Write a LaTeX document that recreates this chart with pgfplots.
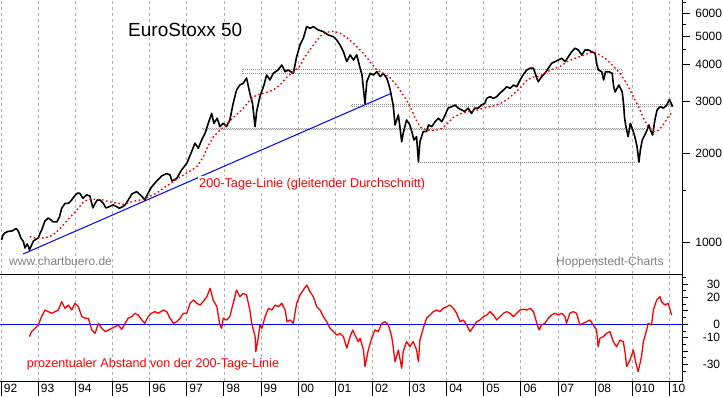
\documentclass[border=0pt]{standalone}
\usepackage{pgfplots}
\pgfplotsset{compat=1.18}
\usepackage{fontspec}
\setmainfont{Liberation Sans}
\definecolor{gridgray}{RGB}{175,175,175}
\definecolor{boxgray}{RGB}{150,150,150}
\definecolor{boxdark}{RGB}{110,110,110}
\definecolor{txtgray}{RGB}{128,128,128}
\definecolor{pred}{RGB}{255,0,0}
\definecolor{pblue}{RGB}{0,0,255}
\begin{document}
\begin{tikzpicture}[x=1pt,y=1pt]
\pgfplotsset{
  common/.style={
    scale only axis, width=682.3pt,
    xmin=1991.968, xmax=2010.349,
    xtick={1992,...,2010},
    xmajorgrids,
    major grid style={gridgray, dash pattern=on 3pt off 3pt, line width=0.7pt},
    axis line style={draw=none},
    ytick pos=right, yticklabel pos=right,
    tick align=outside,
    tick style={black, line width=0.8pt},
    ticklabel style={font=\fontsize{12}{14}\selectfont},
    yticklabel style={anchor=east, inner sep=0pt},
  }
}
% ---------------- top panel ----------------
\begin{axis}[common, at={(0pt,123pt)}, anchor=south west, height=274pt,
  ymode=log, ymin=778.5, ymax=6643,
  ytick={1000,2000,3000,4000,5000,6000},
  yticklabels={1000,2000,3000,4000,5000,6000},
  minor ytick={1500,4500,5500,6500},
  xticklabels={}, xtick style={draw=none},
  major tick length=8pt, minor tick length=4pt,
  yticklabel style={xshift=32pt},
]
% support / resistance boxes
\addplot[boxgray, line width=1pt, dash pattern=on 1pt off 1pt] coordinates {(1998.51,3865) (2008.73,3865) (2008.73,3745) (1998.51,3745) (1998.51,3865)};
\addplot[boxgray, line width=1pt, dash pattern=on 1pt off 1pt] coordinates {(2001.44,2921) (2010.11,2921) (2010.11,2883) (2001.44,2883) (2001.44,2921)};
\addplot[boxgray, line width=1pt, dash pattern=on 1pt off 1pt] coordinates {(1997.42,2433) (2009.34,2433) (2009.34,2414) (1997.42,2414) (1997.42,2433)};
\addplot[boxdark, line width=0.9pt, dash pattern=on 1pt off 1pt] coordinates {(2003.24,1866) (2009.10,1866)};
% trend line
\addplot[pblue, line width=1pt] coordinates {(1992.59,910) (2002.53,3209)};
% price
\addplot[black, line width=1.6pt, line join=round] coordinates {
(1992.01,1016) (1992.05,1056) (1992.10,1073) (1992.18,1086) (1992.29,1090) (1992.40,1111) (1992.46,1090) (1992.53,1032) (1992.60,1002) (1992.64,954) (1992.70,985) (1992.74,962) (1992.76,939) (1992.82,977) (1992.87,1008) (1992.91,1016) (1993.00,1032) (1993.05,1073) (1993.09,1098) (1993.13,1133) (1993.18,1179) (1993.27,1207) (1993.34,1188) (1993.40,1170) (1993.50,1170) (1993.57,1216) (1993.63,1302) (1993.72,1353) (1993.81,1353) (1993.90,1389) (1993.96,1425) (1994.05,1464) (1994.12,1464) (1994.20,1408) (1994.30,1445) (1994.39,1434) (1994.47,1305) (1994.53,1353) (1994.59,1389) (1994.66,1389) (1994.75,1353) (1994.82,1305) (1994.91,1318) (1995.01,1336) (1995.11,1318) (1995.18,1302) (1995.27,1318) (1995.34,1336) (1995.44,1400) (1995.52,1456) (1995.65,1483) (1995.78,1434) (1995.87,1389) (1995.96,1467) (1996.05,1537) (1996.19,1611) (1996.32,1675) (1996.46,1709) (1996.55,1689) (1996.60,1611) (1996.73,1645) (1996.86,1757) (1997.00,1851) (1997.13,2027) (1997.22,2166) (1997.31,2082) (1997.40,2221) (1997.49,2339) (1997.58,2531) (1997.67,2736) (1997.73,2531) (1997.82,2633) (1997.89,2466) (1997.98,2531) (1998.07,2466) (1998.16,2598) (1998.25,2960) (1998.34,3285) (1998.43,3416) (1998.52,3462) (1998.61,3608) (1998.70,3197) (1998.77,2958) (1998.84,2466) (1998.88,2769) (1998.97,3118) (1999.08,3416) (1999.15,3694) (1999.24,3552) (1999.33,3743) (1999.46,3842) (1999.56,3995) (1999.65,3790) (1999.73,3842) (1999.87,3743) (1999.96,4263) (2000.05,4671) (2000.14,4928) (2000.23,5393) (2000.32,5325) (2000.41,5393) (2000.54,5253) (2000.68,5184) (2000.81,5051) (2000.95,4986) (2001.04,4858) (2001.13,4671) (2001.22,4433) (2001.31,4100) (2001.40,4320) (2001.49,4154) (2001.58,4320) (2001.67,3894) (2001.72,3694) (2001.80,2955) (2001.85,3505) (2001.94,3743) (2002.03,3694) (2002.12,3790) (2002.21,3646) (2002.29,3743) (2002.39,3600) (2002.47,3329) (2002.56,2921) (2002.61,2498) (2002.70,2701) (2002.74,2466) (2002.79,2191) (2002.83,2339) (2002.92,2598) (2003.01,2498) (2003.06,2374) (2003.12,2221) (2003.19,2280) (2003.24,1873) (2003.28,2191) (2003.37,2374) (2003.46,2374) (2003.51,2498) (2003.60,2466) (2003.69,2563) (2003.78,2633) (2003.87,2563) (2003.96,2701) (2004.04,2850) (2004.14,2883) (2004.23,2921) (2004.31,2850) (2004.41,2809) (2004.49,2776) (2004.58,2850) (2004.67,2736) (2004.76,2850) (2004.85,2850) (2004.94,2921) (2005.03,2960) (2005.08,3076) (2005.17,3118) (2005.26,3076) (2005.35,3118) (2005.44,3202) (2005.53,3285) (2005.62,3370) (2005.71,3329) (2005.80,3416) (2005.89,3370) (2005.98,3552) (2006.07,3715) (2006.16,3842) (2006.25,3894) (2006.34,3894) (2006.43,3600) (2006.47,3505) (2006.56,3646) (2006.65,3743) (2006.74,3894) (2006.83,4049) (2006.92,4100) (2007.01,4154) (2007.10,4209) (2007.19,4100) (2007.28,4263) (2007.37,4433) (2007.46,4552) (2007.55,4492) (2007.64,4320) (2007.73,4492) (2007.82,4492) (2007.91,4433) (2008.00,4376) (2008.05,3995) (2008.09,3842) (2008.18,3790) (2008.23,3552) (2008.28,3790) (2008.37,3790) (2008.46,3743) (2008.50,3370) (2008.54,3234) (2008.64,3416) (2008.73,3234) (2008.77,2921) (2008.79,2666) (2008.83,2466) (2008.89,2280) (2008.95,2531) (2009.00,2431) (2009.07,2280) (2009.13,2108) (2009.18,1869) (2009.22,2054) (2009.27,2221) (2009.34,2310) (2009.40,2402) (2009.45,2498) (2009.49,2402) (2009.55,2310) (2009.61,2598) (2009.67,2809) (2009.76,2883) (2009.84,2850) (2009.93,2921) (2010.00,3050) (2010.05,2960) (2010.08,2883)};
% 200-day moving average
\addplot[pred, line width=1.4pt, dash pattern=on 1.6pt off 2.6pt] coordinates {
(1992.77,1044) (1992.86,1032) (1993.00,1036) (1993.13,1032) (1993.27,1040) (1993.40,1056) (1993.54,1098) (1993.67,1142) (1993.81,1197) (1993.94,1245) (1994.08,1302) (1994.21,1366) (1994.35,1394) (1994.48,1397) (1994.62,1394) (1994.75,1389) (1994.89,1371) (1995.02,1360) (1995.15,1353) (1995.29,1341) (1995.47,1366) (1995.65,1383) (1995.83,1394) (1995.96,1422) (1996.10,1445) (1996.23,1479) (1996.37,1523) (1996.50,1562) (1996.64,1603) (1996.77,1645) (1996.91,1689) (1997.04,1729) (1997.18,1770) (1997.31,1827) (1997.44,1943) (1997.58,2127) (1997.72,2280) (1997.90,2402) (1998.07,2508) (1998.25,2645) (1998.39,2744) (1998.52,2842) (1998.70,3038) (1998.88,3159) (1999.15,3221) (1999.33,3285) (1999.51,3416) (1999.69,3623) (1999.87,3790) (2000.05,3963) (2000.18,4253) (2000.32,4509) (2000.45,4733) (2000.59,5004) (2000.77,5160) (2000.95,5201) (2001.13,5118) (2001.31,4951) (2001.49,4733) (2001.67,4492) (2001.80,4320) (2001.94,4090) (2002.12,3842) (2002.29,3743) (2002.47,3623) (2002.65,3416) (2002.79,3209) (2002.92,3038) (2003.06,2809) (2003.15,2639) (2003.24,2518) (2003.33,2434) (2003.46,2402) (2003.64,2392) (2003.82,2412) (2003.96,2480) (2004.04,2540) (2004.18,2650) (2004.36,2723) (2004.54,2766) (2004.76,2793) (2004.99,2850) (2005.17,2883) (2005.35,2921) (2005.53,2990) (2005.71,3107) (2005.89,3260) (2005.98,3329) (2006.16,3552) (2006.34,3637) (2006.49,3646) (2006.69,3781) (2006.87,3873) (2007.05,3942) (2007.23,4090) (2007.41,4187) (2007.59,4263) (2007.82,4376) (2007.95,4422) (2008.13,4320) (2008.31,4170) (2008.49,3963) (2008.67,3743) (2008.85,3456) (2009.03,3118) (2009.17,2883) (2009.30,2639) (2009.43,2469) (2009.57,2374) (2009.71,2392) (2009.84,2508) (2009.97,2661) (2010.06,2744)};
\end{axis}
% ---------------- bottom panel ----------------
\begin{axis}[common, at={(0pt,16pt)}, anchor=south west, height=107pt,
  ymin=-42.2, ymax=37.4,
  ytick={-30,-20,-10,0,10,20,30},
  yticklabels={-30,,-10,0,,20,30},
  minor ytick={-35,-25,-15,-5,5,15,25,35},
  major tick length=6pt, minor tick length=4pt,
  xtick pos=bottom,
  xtick style={/pgfplots/major tick length=15pt},
  xticklabels={92,93,94,95,96,97,98,99,00,01,02,03,04,05,06,07,08,010,10},
  xticklabel style={anchor=north west, inner sep=0pt, xshift=2.5pt, yshift=3pt},
  yticklabel style={xshift=32pt},
]
\addplot[pblue, line width=1pt] coordinates {(1991.968,0) (2010.349,0)};
\addplot[pred, line width=1.3pt, line join=round] coordinates {
(1992.76,-9.2) (1992.82,-5.5) (1992.91,-3.0) (1993.00,-0.5) (1993.09,5.7) (1993.18,10.6) (1993.27,9.4) (1993.36,8.2) (1993.45,9.4) (1993.54,10.6) (1993.63,16.8) (1993.72,11.9) (1993.81,14.3) (1993.90,10.6) (1993.99,15.6) (1994.08,13.1) (1994.17,5.7) (1994.26,4.5) (1994.35,4.5) (1994.44,-4.2) (1994.53,-6.7) (1994.62,0.7) (1994.71,-3.0) (1994.80,-5.5) (1994.89,-4.2) (1994.98,-3.0) (1995.07,-1.8) (1995.15,-0.5) (1995.25,-3.7) (1995.34,0.7) (1995.42,4.5) (1995.52,5.7) (1995.60,8.2) (1995.69,6.9) (1995.79,3.2) (1995.87,0.7) (1995.96,5.7) (1996.05,8.2) (1996.14,9.4) (1996.23,8.2) (1996.37,10.6) (1996.46,9.4) (1996.55,4.5) (1996.64,0.7) (1996.73,1.9) (1996.82,4.5) (1996.91,8.2) (1997.00,8.2) (1997.09,15.6) (1997.18,18.1) (1997.27,15.6) (1997.36,14.3) (1997.44,16.8) (1997.54,20.5) (1997.63,26.8) (1997.71,18.1) (1997.81,13.1) (1997.89,-0.5) (1997.94,-3.0) (1997.98,4.5) (1998.07,3.2) (1998.16,5.7) (1998.25,15.6) (1998.34,25.5) (1998.43,20.5) (1998.52,23.0) (1998.61,21.8) (1998.70,10.6) (1998.75,0.7) (1998.84,-9.2) (1998.86,-20.4) (1998.93,-9.2) (1998.97,-0.5) (1999.02,-3.0) (1999.11,5.7) (1999.20,11.9) (1999.29,10.6) (1999.38,14.3) (1999.47,13.1) (1999.56,15.6) (1999.65,10.6) (1999.70,1.9) (1999.78,3.2) (1999.87,0.7) (1999.96,15.6) (2000.05,21.8) (2000.14,25.5) (2000.23,29.2) (2000.32,24.2) (2000.41,20.5) (2000.50,13.1) (2000.59,10.6) (2000.68,5.7) (2000.77,1.9) (2000.86,-3.0) (2000.95,-5.5) (2001.04,-8.0) (2001.13,-6.7) (2001.22,-9.2) (2001.31,-17.8) (2001.40,-9.2) (2001.47,-4.2) (2001.53,-8.0) (2001.62,-12.9) (2001.67,-10.4) (2001.76,-19.1) (2001.80,-31.5) (2001.89,-19.1) (2001.98,-10.4) (2002.07,-4.2) (2002.16,-5.5) (2002.25,0.7) (2002.34,1.9) (2002.43,-0.5) (2002.52,-9.2) (2002.56,-16.7) (2002.61,-27.8) (2002.70,-19.1) (2002.74,-25.3) (2002.79,-32.7) (2002.83,-20.4) (2002.92,-12.9) (2003.01,-16.7) (2003.10,-12.9) (2003.19,-19.1) (2003.24,-27.8) (2003.28,-11.7) (2003.37,-3.0) (2003.46,4.5) (2003.55,6.9) (2003.64,9.4) (2003.73,10.6) (2003.82,9.4) (2003.91,11.9) (2004.00,13.1) (2004.09,14.3) (2004.18,11.9) (2004.27,8.2) (2004.36,1.9) (2004.45,3.2) (2004.54,-0.5) (2004.63,-5.5) (2004.72,-1.8) (2004.81,1.9) (2004.90,3.2) (2004.99,5.7) (2005.08,6.9) (2005.17,9.4) (2005.26,6.9) (2005.35,3.2) (2005.44,5.7) (2005.53,8.2) (2005.62,9.4) (2005.71,8.2) (2005.80,5.7) (2005.89,8.2) (2005.98,10.6) (2006.07,11.2) (2006.16,10.6) (2006.25,11.9) (2006.34,9.4) (2006.43,0.7) (2006.49,-4.2) (2006.56,-0.5) (2006.65,0.7) (2006.74,4.5) (2006.83,6.9) (2006.92,8.2) (2007.01,6.9) (2007.10,8.2) (2007.19,5.7) (2007.23,0.7) (2007.32,8.2) (2007.41,9.4) (2007.50,8.2) (2007.59,-0.5) (2007.68,0.7) (2007.77,1.9) (2007.86,3.2) (2007.95,-0.5) (2008.04,-4.2) (2008.08,-16.7) (2008.13,-10.4) (2008.22,-9.2) (2008.31,-6.7) (2008.40,-5.5) (2008.49,-12.9) (2008.58,-16.7) (2008.67,-11.7) (2008.76,-12.9) (2008.81,-21.6) (2008.85,-31.5) (2008.94,-26.5) (2009.03,-19.1) (2009.10,-29.0) (2009.16,-35.2) (2009.25,-24.1) (2009.30,-12.9) (2009.39,-4.2) (2009.43,0.7) (2009.52,-0.5) (2009.57,10.6) (2009.66,18.1) (2009.75,20.5) (2009.79,16.8) (2009.88,14.3) (2009.97,15.6) (2010.06,6.9)};
\end{axis}
% frame lines
\draw[black, line width=1pt] (0,123) -- (682.3,123);
\draw[black, line width=1pt] (0,16) -- (682.3,16);
\draw[black, line width=1pt] (682.3,15.5) -- (682.3,397);
% texts
\node[anchor=base west, inner sep=0pt, font=\fontsize{19}{22}\selectfont] at (128,360.3) {EuroStoxx 50};
\node[anchor=base west, inner xsep=1pt, inner ysep=2pt, fill=white, text=pred, font=\fontsize{12.7}{15}\selectfont] at (198,209.7) {200-Tage-Linie (gleitender Durchschnitt)};
\node[anchor=base west, inner sep=0pt, text=txtgray, font=\fontsize{12}{14}\selectfont] at (9,131.3) {www.chartbuero.de};
\node[anchor=base west, inner sep=0pt, text=txtgray, font=\fontsize{12}{14}\selectfont] at (556,131.3) {Hoppenstedt-Charts};
\node[anchor=base west, inner sep=0pt, text=pred, font=\fontsize{12.6}{15}\selectfont] at (26.7,29.3) {prozentualer Abstand von der 200-Tage-Linie};
\pgfresetboundingbox
\useasboundingbox (0,0) rectangle (723,397);
\end{tikzpicture}
\end{document}
